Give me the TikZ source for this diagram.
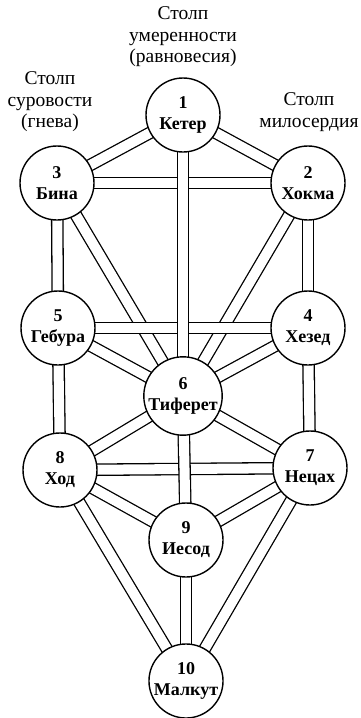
\documentclass[tikz,border=0pt]{standalone}
\usepackage{fontspec}
\setmainfont{Liberation Serif}
\usetikzlibrary{backgrounds}
\begin{document}
\begin{tikzpicture}[x=1pt,y=-1pt,
  sefira/.style={circle,draw=black,line width=1.4pt,fill=white,minimum size=74pt,inner sep=0pt,
     align=center,font=\bfseries\fontsize{18}{21}\selectfont},
  pathway/.style={draw=black,line width=1.3pt,double=white,double distance=10pt},
  pillar/.style={align=center,font=\fontsize{19.5}{21.5}\selectfont,inner sep=0pt}]
\useasboundingbox (0,0) rectangle (361,718);
\node[sefira] (n1) at (183,115) {1\\Кетер};
\node[sefira] (n2) at (308,183) {2\\Хокма};
\node[sefira] (n3) at (57,183) {3\\Бина};
\node[sefira] (n4) at (308,328) {4\\Хезед};
\node[sefira] (n5) at (58,328) {5\\Гебура};
\node[sefira] (n6) at (183,396) {6\\Тиферет};
\node[sefira] (n7) at (310,468) {7\\Нецах};
\node[sefira] (n8) at (60,470) {8\\Ход};
\node[sefira] (n9) at (186,540) {9\\Иесод};
\node[sefira] (n10) at (186,681) {10\\Малкут};
\begin{scope}[on background layer]
  \fill[white] (0,0) rectangle (361,718);
  % diagonals
  \draw[pathway] (n1.center) -- (n3.center);
  \draw[pathway] (n1.center) -- (n2.center);
  \draw[pathway] (n3.center) -- (n6.center);
  \draw[pathway] (n2.center) -- (n6.center);
  \draw[pathway] (n5.center) -- (n6.center);
  \draw[pathway] (n4.center) -- (n6.center);
  \draw[pathway] (n6.center) -- (n8.center);
  \draw[pathway] (n6.center) -- (n7.center);
  \draw[pathway] (n8.center) -- (n9.center);
  \draw[pathway] (n7.center) -- (n9.center);
  \draw[pathway] (n8.center) -- (n10.center);
  \draw[pathway] (n7.center) -- (n10.center);
  % horizontals
  \draw[pathway] (n3.center) -- (n2.center);
  \draw[pathway] (n5.center) -- (n4.center);
  \draw[pathway] (n8.center) -- (n7.center);
  % verticals
  \draw[pathway] (n3.center) -- (n5.center);
  \draw[pathway] (n5.center) -- (n8.center);
  \draw[pathway] (n2.center) -- (n4.center);
  \draw[pathway] (n4.center) -- (n7.center);
  \draw[pathway] (n1.center) -- (n6.center);
  \draw[pathway] (n6.center) -- (n9.center);
  \draw[pathway] (n9.center) -- (n10.center);
\end{scope}
\node[pillar] (pmid) at (183,37) {Столп\\умеренности\\(равновесия)};
\node[pillar] (pleft) at (50,102) {Столп\\суровости\\(гнева)};
\node[pillar] (pright) at (309,112) {Столп\\милосердия};
\end{tikzpicture}
\end{document}
